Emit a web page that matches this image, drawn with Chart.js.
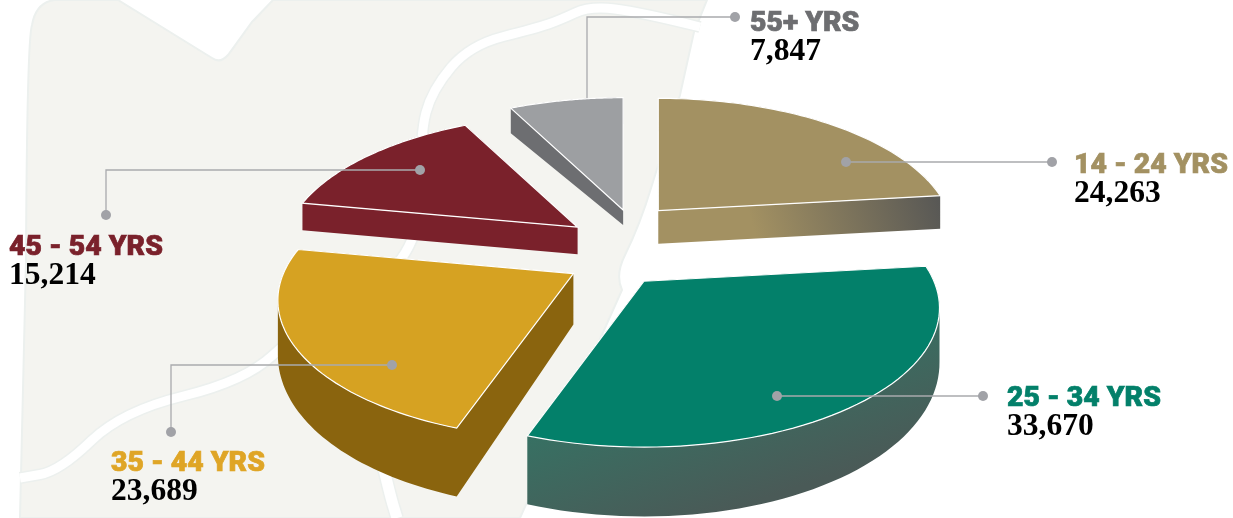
<!DOCTYPE html>
<html lang="en">

<head>
    <meta charset="UTF-8">
    <title>Age groups</title>
    <style>
        html, body { margin: 0; padding: 0; background: #ffffff; }
        canvas { display: block; }
    </style>
</head>

<body>
    <canvas id="pie-chart" width="1233" height="518"></canvas>

    <script src="https://cdn.jsdelivr.net/npm/chart.js"></script>
    <script>
        // data
        const categories = ["14 - 24 YRS", "25 - 34 YRS", "35 - 44 YRS", "45 - 54 YRS", "55+ YRS"];
        const values = [24263, 33670, 23689, 15214, 7847];
        const valueLabels = ["24,263", "33,670", "23,689", "15,214", "7,847"];

        // slice styles
        const topColors = ["#a39162", "#03806a", "#d6a222", "#7a212b", "#9d9fa2"];
        const labelColors = ["#a39162", "#03806a", "#dfa526", "#7a212b", "#6d6e71"];
        const explode = [50, 40, 55, 48, 38];
        const nudges = [[3, 1], [-3, 3], [-1, -1], [-6, 9], [10, 0]];
        const depths = [33, 51, 51, 27, 15];
        const depthSlopes = [0, 0.36, 0.36, 0, -0.75];
        const drawOrder = [4, 3, 0, 2, 1];

        // camera
        const radius = 290;
        const tilt = 0.462;
        const distance = 5.2;

        // label text x, label baseline, value baseline
        const labelPos = [[1075, 173, 202], [1008, 406, 435], [112, 471, 500], [10, 255, 284], [751, 31, 60]];
        // leader lines
        const leaders = [
            { pts: [[846, 162], [1052, 162]], dots: [0, 1] },
            { pts: [[777, 396], [983, 396]], dots: [0, 1] },
            { pts: [[392, 365], [171, 365], [171, 432]], dots: [0, 2] },
            { pts: [[420, 170], [106, 170], [106, 215]], dots: [0, 2] },
            { pts: [[587, 98], [587, 17], [735, 17]], dots: [2] }
        ];

        function sideFill(ctx, i) {
            if (i === 0) {
                var g = ctx.createLinearGradient(760, 250, 940, 195);
                g.addColorStop(0, "#a39162");
                g.addColorStop(1, "#575755");
                return g;
            }
            if (i === 1) {
                var g = ctx.createLinearGradient(640, 340, 700, 520);
                g.addColorStop(0, "#2f7a68");
                g.addColorStop(1, "#4a5a57");
                return g;
            }
            return ["", "", "#8a640e", "#7a212b", "#6d6e71"][i];
        }

        // map background behind the pie
        function drawMap(ctx) {
            ctx.save();
            ctx.beginPath();
            ctx.moveTo(20, 518);
            ctx.lineTo(26, 260);
            ctx.quadraticCurveTo(27, 40, 32, 25);
            ctx.quadraticCurveTo(36, 2, 55, 0);
            ctx.lineTo(118, 0);
            ctx.lineTo(212, 58);
            ctx.quadraticCurveTo(220, 64, 228, 55);
            ctx.lineTo(252, 22);
            ctx.lineTo(273, 0);
            ctx.lineTo(707, 0);
            ctx.lineTo(694, 32);
            ctx.lineTo(680, 95);
            ctx.lineTo(652, 185);
            ctx.quadraticCurveTo(640, 225, 625, 255);
            ctx.quadraticCurveTo(615, 275, 622, 290);
            ctx.lineTo(520, 518);
            ctx.closePath();
            ctx.fillStyle = "#f4f4f0";
            ctx.fill();
            ctx.strokeStyle = "#ecf0ee";
            ctx.lineWidth = 2;
            ctx.stroke();

            function road(points, width) {
                [["#ecf0ee", width + 3], ["#ffffff", width]].forEach(function (s) {
                    ctx.beginPath();
                    ctx.moveTo(points[0][0], points[0][1]);
                    for (var i = 1; i < points.length - 1; i++) {
                        var mx = (points[i][0] + points[i + 1][0]) / 2;
                        var my = (points[i][1] + points[i + 1][1]) / 2;
                        ctx.quadraticCurveTo(points[i][0], points[i][1], mx, my);
                    }
                    var last = points[points.length - 1];
                    ctx.lineTo(last[0], last[1]);
                    ctx.strokeStyle = s[0];
                    ctx.lineWidth = s[1];
                    ctx.lineCap = "butt";
                    ctx.stroke();
                });
            }
            road([[700, 27], [640, 12], [590, 6], [560, 20], [537, 28], [470, 45], [432, 90], [420, 135], [420, 260], [300, 330], [245, 381], [122, 411], [60, 471], [20, 478]], 9);
            road([[383, 465], [390, 495], [397, 518]], 11);
            ctx.restore();
        }

        function sliceOutline(arc, i) {
            var mid = (arc.startAngle + arc.endAngle) / 2;
            var off = arc.options.offset;
            var ax = arc.x + off * Math.cos(mid) + nudges[i][0];
            var ay = arc.y + off * Math.sin(mid) + nudges[i][1];
            var pts = [{ x: ax, y: ay, v: 0 }];
            var steps = 60;
            for (var s = 0; s <= steps; s++) {
                var a = arc.startAngle + (arc.endAngle - arc.startAngle) * s / steps;
                var u = Math.cos(a), v = Math.sin(a);
                var k = distance / (distance - v);
                pts.push({
                    x: ax + arc.outerRadius * u * k,
                    y: ay + arc.outerRadius * tilt * v * k,
                    v: v
                });
            }
            return pts;
        }

        const pie3d = {
            id: "pie3d",
            beforeDraw: function (chart) {
                drawMap(chart.ctx);
            },
            beforeDatasetDraw: function (chart) {
                var ctx = chart.ctx;
                var arcs = chart.getDatasetMeta(0).data;
                drawOrder.forEach(function (i) {
                    var pts = sliceOutline(arcs[i], i);
                    var drop = function (p) {
                        return depths[i] * (1 + depthSlopes[i] * p.v);
                    };
                    // sides, one path with every quad wound the same way so there are no seams
                    ctx.beginPath();
                    for (var n = 0; n < pts.length; n++) {
                        var p = pts[n], q = pts[(n + 1) % pts.length];
                        var dp = drop(p), dq = drop(q);
                        if (q.x >= p.x) {
                            ctx.moveTo(p.x, p.y);
                            ctx.lineTo(q.x, q.y);
                            ctx.lineTo(q.x, q.y + dq);
                            ctx.lineTo(p.x, p.y + dp);
                        } else {
                            ctx.moveTo(q.x, q.y);
                            ctx.lineTo(p.x, p.y);
                            ctx.lineTo(p.x, p.y + dp);
                            ctx.lineTo(q.x, q.y + dq);
                        }
                        ctx.closePath();
                    }
                    ctx.fillStyle = sideFill(ctx, i);
                    ctx.fill();
                    // top face
                    ctx.beginPath();
                    pts.forEach(function (p, n) {
                        if (n === 0) ctx.moveTo(p.x, p.y);
                        else ctx.lineTo(p.x, p.y);
                    });
                    ctx.closePath();
                    ctx.fillStyle = topColors[i];
                    ctx.fill();
                    ctx.strokeStyle = "#ffffff";
                    ctx.lineWidth = 1.2;
                    ctx.lineJoin = "miter";
                    ctx.stroke();
                });
                return false;
            },
            afterDraw: function (chart) {
                var ctx = chart.ctx;
                ctx.save();
                leaders.forEach(function (l) {
                    ctx.beginPath();
                    l.pts.forEach(function (p, n) {
                        if (n === 0) ctx.moveTo(p[0], p[1]);
                        else ctx.lineTo(p[0], p[1]);
                    });
                    ctx.strokeStyle = "#a9aaad";
                    ctx.lineWidth = 1.3;
                    ctx.stroke();
                    l.dots.forEach(function (d) {
                        ctx.beginPath();
                        ctx.arc(l.pts[d][0], l.pts[d][1], 5, 0, Math.PI * 2);
                        ctx.fillStyle = "#a1a2a7";
                        ctx.fill();
                    });
                });
                ctx.textAlign = "left";
                ctx.textBaseline = "alphabetic";
                categories.forEach(function (c, i) {
                    ctx.font = "900 28.4px Roboto";
                    ctx.fillStyle = labelColors[i];
                    ctx.strokeStyle = labelColors[i];
                    ctx.lineWidth = 0.7;
                    ctx.fillText(c, labelPos[i][0] - 1, labelPos[i][1]);
                    ctx.strokeText(c, labelPos[i][0] - 1, labelPos[i][1]);
                    ctx.font = "bold 31.5px 'Liberation Serif'";
                    ctx.fillStyle = "#000000";
                    ctx.fillText(valueLabels[i], labelPos[i][0] - 1, labelPos[i][2]);
                });
                ctx.restore();
            }
        };

        new Chart(document.getElementById("pie-chart"), {
            type: "pie",
            data: {
                labels: categories,
                datasets: [{
                    data: values,
                    backgroundColor: topColors,
                    borderWidth: 0,
                    offset: explode
                }]
            },
            options: {
                responsive: false,
                animation: false,
                events: [],
                radius: radius,
                layout: { padding: { left: 11, bottom: 24 } },
                plugins: { legend: { display: false }, tooltip: { enabled: false } }
            },
            plugins: [pie3d]
        });
    </script>
</body>

</html>
